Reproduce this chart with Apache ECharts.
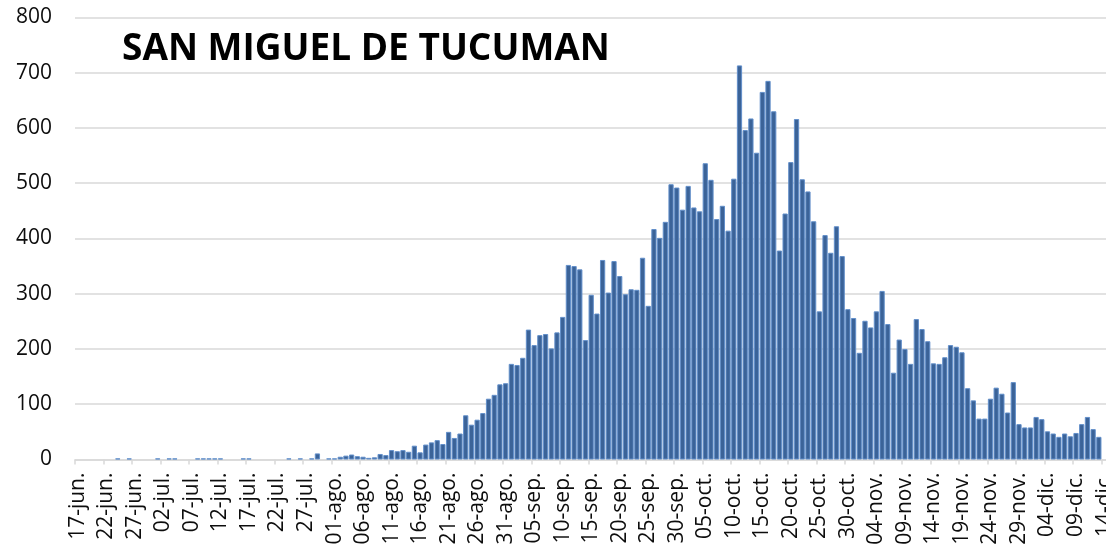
<!DOCTYPE html>
<html>
<head>
<meta charset="utf-8">
<title>San Miguel de Tucumán – casos diarios</title>
<script src="https://cdn.jsdelivr.net/npm/echarts@6/dist/echarts.min.js"></script>
<style>
  html, body { margin: 0; padding: 0; background: #ffffff; }
  #chart { width: 1106px; height: 545px; }
</style>
</head>
<body>
<div id="chart"></div>
<script>
// Casos diarios, del 17-jun al 14-dic (un valor por día)
const junio      = [0, 0, 0, 0, 0, 0, 0, 2, 0, 2, 0, 0, 0, 0];               // 17..30
const julio      = [2, 0, 2, 2, 0, 0, 0, 2, 2, 2, 2, 2, 0, 0, 0, 2, 2, 0, 0, 0,
                    0, 0, 0, 2, 0, 2, 0, 2, 11, 0, 2];                          // 01..31
const agosto     = [2, 5, 7, 9, 6, 5, 3, 4, 10, 8, 17, 15, 17, 14, 25, 13, 27, 31, 35, 28,
                    50, 39, 47, 80, 63, 72, 84, 110, 117, 136, 138];            // 01..31
const septiembre = [173, 171, 184, 235, 207, 225, 227, 201, 230, 258, 352, 350, 344, 216, 298,
                    264, 361, 302, 359, 332, 299, 308, 307, 365, 278, 417, 401, 430, 498, 492]; // 01..30
const octubre    = [452, 495, 456, 449, 536, 506, 435, 459, 414, 508, 713, 596, 617, 555, 665,
                    685, 630, 378, 445, 538, 616, 507, 485, 431, 268, 406, 374, 422, 368, 272, 256]; // 01..31
const noviembre  = [193, 251, 239, 268, 305, 245, 157, 217, 200, 173, 254, 236, 214, 174, 173,
                    185, 207, 204, 194, 129, 107, 74, 74, 110, 130, 119, 85, 140, 64, 58];  // 01..30
const diciembre  = [58, 77, 73, 51, 47, 41, 47, 42, 48, 64, 77, 55, 41, null];  // 01..14

// Meses del eje y el rango de días que cubre cada uno
const meses      = ['jun', 'jul', 'ago', 'sep', 'oct', 'nov', 'dic'];
const diaInicial = [17, 1, 1, 1, 1, 1, 1];
const diaFinal   = [30, 31, 31, 30, 31, 30, 14];

const yTicks = { min: 0, max: 800, interval: 100 };

const valores = [].concat(junio, julio, agosto, septiembre, octubre, noviembre, diciembre);
const categorias = [];
meses.forEach(function (m, k) {
  for (let d = diaInicial[k]; d <= diaFinal[k]; d++) {
    categorias.push((d < 10 ? '0' + d : '' + d) + '-' + m + '.');
  }
});

// Los días sin casos no llevan borde, para que no se vea una raya sobre el eje
const datosBarras = valores.map(function (v) {
  return v === 0 ? { value: v, itemStyle: { borderWidth: 0 } } : v;
});

const chart = echarts.init(document.getElementById('chart'), null, { renderer: 'canvas' });
const FONT = '"Open Sans", "Noto Sans", sans-serif';

chart.setOption({
  animation: false,
  backgroundColor: '#ffffff',
  title: {
    text: 'SAN MIGUEL DE TUCUMAN',
    left: 117,
    top: 26,
    textStyle: {
      fontFamily: FONT,
      fontWeight: 'bold',
      fontSize: 37,
      color: '#000000'
    }
  },
  grid: {
    left: 75,
    top: 17.3,
    width: 1032.4,
    height: 442.2,
    containLabel: false,
    outerBoundsMode: 'none'
  },
  xAxis: {
    type: 'category',
    data: categorias,
    boundaryGap: true,
    axisLine: { show: true, lineStyle: { color: '#d9d9d9', width: 1.5 } },
    axisTick: { show: true, interval: 4, length: 5, lineStyle: { color: '#d9d9d9', width: 1.5 } },
    axisLabel: {
      interval: 4,
      rotate: 90,
      margin: 13,
      padding: [6, 0, 0, 0],
      fontFamily: FONT,
      fontSize: 21,
      color: '#0d0d0d'
    },
    splitLine: { show: false }
  },
  yAxis: {
    type: 'value',
    min: yTicks.min,
    max: yTicks.max,
    interval: yTicks.interval,
    axisLine: { show: false },
    axisTick: { show: false },
    axisLabel: {
      margin: 23,
      fontFamily: FONT,
      fontSize: 21,
      color: '#0d0d0d'
    },
    splitLine: { show: true, lineStyle: { color: '#d9d9d9', width: 1.5 } }
  },
  series: [{
    type: 'bar',
    data: datosBarras,
    barCategoryGap: '8%',
    itemStyle: {
      color: '#3b6398',
      borderColor: '#628fca',
      borderWidth: 1
    }
  }]
});
</script>
</body>
</html>
